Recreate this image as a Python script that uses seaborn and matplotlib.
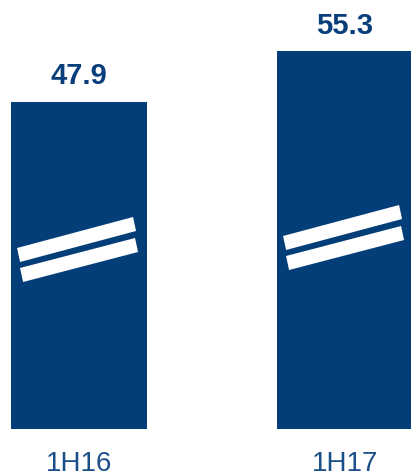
import matplotlib
matplotlib.use("Agg")
import matplotlib.pyplot as plt
import seaborn as sns
import pandas as pd
from matplotlib.patches import Polygon
from matplotlib.transforms import IdentityTransform

# Data
categories = ["1H16", "1H17"]
values = [47.9, 55.3]
value_labels = ["47.9", "55.3"]

BAR = "#043E78"
TXT = "#083F7B"
TICK = "#1A4F8A"

sns.set_theme(style="white")
plt.rcParams["font.family"] = ["Liberation Sans", "DejaVu Sans"]

df = pd.DataFrame({"period": categories, "value": values})

fig = plt.figure(figsize=(4.11, 4.77), dpi=100)
ax = fig.add_axes([0, 47 / 477, 1, 430 / 477])
sns.barplot(data=df, x="period", y="value", color=BAR, saturation=1,
            width=0.511, ax=ax, linewidth=0)

ax.set_xlim(-0.297, 1.248)
ax.set_ylim(0, 62.96)
ax.set_xlabel("")
ax.set_ylabel("")
ax.set_yticks([])
for s in ax.spines.values():
    s.set_visible(False)
ax.tick_params(axis="x", length=0, pad=15, labelsize=20, labelcolor=TICK)

# value labels
for patch, lab in zip(ax.patches, value_labels):
    ax.annotate(lab, (patch.get_x() + patch.get_width() / 2, patch.get_height()),
                xytext=(0, 9), textcoords="offset points", ha="center", va="bottom",
                fontsize=21, fontweight="bold", color=TXT)

# break marks (two white slanted stripes per bar), pixel offsets from bar's bottom-left
stripes = [
    [(6, 181), (122, 212), (125, 198), (9, 167)],
    [(9, 161), (124, 191), (127, 177), (12, 147)],
]
break_shift = [0, 12]
fig.canvas.draw()
for patch, dy in zip(ax.patches, break_shift):
    bb = patch.get_window_extent()
    for st in stripes:
        pts = [(bb.x0 + x, bb.y0 + y + dy) for x, y in st]
        ax.add_patch(Polygon(pts, closed=True, facecolor="white", edgecolor="none",
                             transform=IdentityTransform(), zorder=5))

fig.savefig("out.png", dpi=100)
